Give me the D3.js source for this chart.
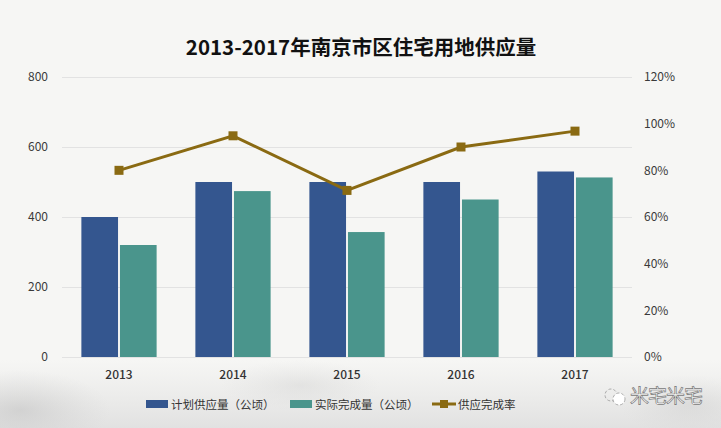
<!DOCTYPE html>
<html><head><meta charset="utf-8">
<script src="https://cdn.jsdelivr.net/npm/d3@7"></script>
<style>
html,body{margin:0;padding:0;background:#f6f6f4;}
svg{display:block;}
</style></head>
<body>
<svg id="c" width="721" height="428"></svg>
<script>
const years = ["2013","2014","2015","2016","2017"];
const planned = [400, 500, 500, 500, 530];
const actual = [320, 474, 357, 450, 513];
const rate = [0.80, 0.948, 0.714, 0.90, 0.968];
const leftTicks = [0, 200, 400, 600, 800];
const rightTicks = [0, 0.2, 0.4, 0.6, 0.8, 1.0, 1.2];
const seriesNames = ["计划供应量（公顷）", "实际完成量（公顷）", "供应完成率"];
const title = "2013-2017年南京市区住宅用地供应量";

const W = 721, H = 428;
const svg = d3.select("#c");
const font = "'Noto Sans CJK SC','Noto Sans',sans-serif";

// background
const defs = svg.append("defs");
const g1 = defs.append("radialGradient").attr("id","wash1").attr("cx","0.5").attr("cy","0.5").attr("r","0.5");
g1.append("stop").attr("offset","0").attr("stop-color","#b8b8b8").attr("stop-opacity",0.45);
g1.append("stop").attr("offset","1").attr("stop-color","#c8c8c8").attr("stop-opacity",0);
const g2 = defs.append("linearGradient").attr("id","wash2").attr("x1","0").attr("y1","0").attr("x2","0").attr("y2","1");
g2.append("stop").attr("offset","0").attr("stop-color","#e0e0e0").attr("stop-opacity",0);
g2.append("stop").attr("offset","1").attr("stop-color","#dcdcdc").attr("stop-opacity",0.8);
svg.append("rect").attr("width",W).attr("height",H).attr("fill","#f6f6f4");
svg.append("rect").attr("x",0).attr("y",360).attr("width",W).attr("height",68).attr("fill","url(#wash2)");
svg.append("ellipse").attr("cx",20).attr("cy",410).attr("rx",90).attr("ry",40).attr("fill","url(#wash1)");
svg.append("ellipse").attr("cx",300).attr("cy",385).attr("rx",80).attr("ry",25).attr("fill","url(#wash1)").attr("opacity",0.5);
svg.append("ellipse").attr("cx",690).attr("cy",405).attr("rx",70).attr("ry",30).attr("fill","url(#wash1)").attr("opacity",0.6);

const x0 = 62, x1 = 632, yTop = 77, yBot = 357;
const x = d3.scaleBand().domain(years).range([x0, x1]).paddingInner(0.34).paddingOuter(0.17);
const sub = d3.scaleBand().domain(["p","a"]).range([0, x.bandwidth()]).paddingInner(0.05);
const yL = d3.scaleLinear().domain([0, 800]).range([yBot, yTop]);
const yR = d3.scaleLinear().domain([0, 1.2]).range([yBot, yTop]);

// grid
svg.append("g").selectAll("line").data(leftTicks).join("line")
  .attr("x1", x0).attr("x2", x1)
  .attr("y1", d => yL(d)+0.5).attr("y2", d => yL(d)+0.5)
  .attr("stroke", "#e2e2e2").attr("stroke-width", 1);

// left axis
const axL = svg.append("g").attr("transform", `translate(${x0-14},0)`)
  .call(d3.axisLeft(yL).tickValues(leftTicks).tickSize(0).tickPadding(0));
axL.select(".domain").remove();
axL.selectAll("text").attr("font-family", font).attr("font-size", 12).attr("fill", "#3a3a3a");

// right axis
const axR = svg.append("g").attr("transform", `translate(${x1+12},0)`)
  .call(d3.axisRight(yR).tickValues(rightTicks).tickSize(0).tickPadding(0).tickFormat(d3.format(".0%")));
axR.select(".domain").remove();
axR.selectAll("text").attr("font-family", font).attr("font-size", 12).attr("fill", "#3a3a3a");

// bottom axis
const axB = svg.append("g").attr("transform", `translate(0,${yBot})`)
  .call(d3.axisBottom(x).tickSize(0).tickPadding(13));
axB.select(".domain").remove();
axB.selectAll("text").attr("font-family", font).attr("font-size", 12).attr("fill", "#333").attr("font-weight", 500);

const blue = "#34568f", teal = "#4a958c", gold = "#8a6a12";

// bars
const gb = svg.append("g");
gb.selectAll("rect.p").data(years).join("rect").attr("class","p")
  .attr("x", d => x(d) + sub("p")).attr("width", sub.bandwidth())
  .attr("y", (d,i) => yL(planned[i])).attr("height", (d,i) => yBot - yL(planned[i]))
  .attr("fill", blue);
gb.selectAll("rect.a").data(years).join("rect").attr("class","a")
  .attr("x", d => x(d) + sub("a")).attr("width", sub.bandwidth())
  .attr("y", (d,i) => yL(actual[i])).attr("height", (d,i) => yBot - yL(actual[i]))
  .attr("fill", teal);

// line
const cx = d => x(d) + x.bandwidth()/2;
const line = d3.line().x((d,i) => cx(years[i])).y(d => yR(d));
svg.append("path").datum(rate).attr("d", line).attr("fill","none")
  .attr("stroke", gold).attr("stroke-width", 3);
svg.append("g").selectAll("rect").data(rate).join("rect")
  .attr("x", (d,i) => cx(years[i]) - 4.5).attr("y", d => yR(d) - 4.5)
  .attr("width", 9).attr("height", 9).attr("fill", gold);

// title
svg.append("text").attr("x", 361).attr("y", 55).attr("text-anchor","middle")
  .attr("font-family", font).attr("font-weight", 700).attr("font-size", 20.5)
  .attr("fill", "#111").text(title);

// legend
const lg = svg.append("g").attr("font-family", font).attr("font-size", 11.5).attr("fill", "#333");
const ly = 404;
lg.append("rect").attr("x",146).attr("y",ly-4).attr("width",22).attr("height",8).attr("fill",blue);
lg.append("text").attr("x",171).attr("y",ly+4.5).text(seriesNames[0]);
lg.append("rect").attr("x",290).attr("y",ly-4).attr("width",22).attr("height",8).attr("fill",teal);
lg.append("text").attr("x",315).attr("y",ly+4.5).text(seriesNames[1]);
lg.append("line").attr("x1",432).attr("x2",456).attr("y1",ly).attr("y2",ly).attr("stroke",gold).attr("stroke-width",3);
lg.append("rect").attr("x",440).attr("y",ly-4).attr("width",8).attr("height",8).attr("fill",gold);
lg.append("text").attr("x",458).attr("y",ly+4.5).text(seriesNames[2]);

// watermark
const wm = svg.append("g");
wm.append("circle").attr("cx",611).attr("cy",395).attr("r",6).attr("fill","none").attr("stroke","#999").attr("stroke-width",0.8).attr("stroke-dasharray","3,2");
wm.append("circle").attr("cx",619).attr("cy",399).attr("r",6).attr("fill","#fff").attr("stroke","#999").attr("stroke-width",0.8).attr("stroke-dasharray","3,2");
wm.append("text").attr("x",630).attr("y",403).attr("font-family",font).attr("font-size",19)
  .attr("fill","#fff").attr("stroke","#777").attr("stroke-width",0.7).attr("letter-spacing",-1).text("米宅米宅");
</script>
</body></html>
